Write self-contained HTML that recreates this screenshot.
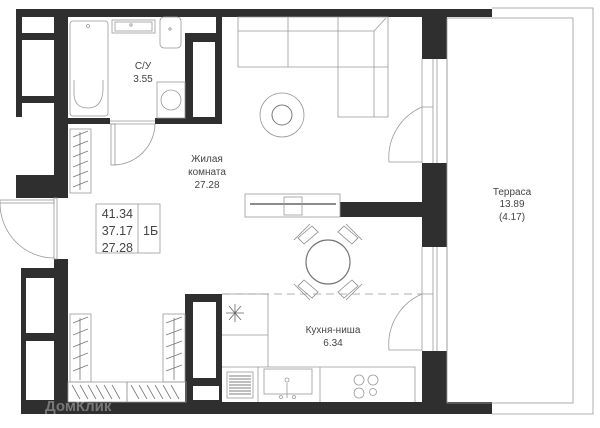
<!DOCTYPE html>
<html><head><meta charset="utf-8"><style>
html,body{margin:0;padding:0;background:#fff;}
svg{display:block;font-family:"Liberation Sans","DejaVu Sans",sans-serif;}
</style></head><body>
<svg width="600" height="428" viewBox="0 0 600 428" xmlns="http://www.w3.org/2000/svg">
<g fill="#2f2f2f">
<rect x="16" y="9" width="476" height="8"/>
<rect x="16" y="9" width="6" height="108"/>
<rect x="54" y="9" width="14" height="189"/>
<rect x="16" y="33" width="40" height="7"/>
<rect x="16" y="96" width="40" height="7"/>
<rect x="16" y="175" width="52" height="23"/>
<rect x="68" y="118" width="42" height="6"/>
<rect x="155" y="118" width="67" height="6"/>
<rect x="185" y="33" width="37" height="91"/>
<rect x="216" y="17" width="6" height="107"/>
<rect x="422" y="9" width="25" height="50"/>
<rect x="422" y="163" width="25" height="84"/>
<rect x="422" y="351" width="25" height="63"/>
<rect x="340" y="202" width="82" height="15"/>
<rect x="21" y="268" width="47" height="146"/>
<rect x="54" y="259" width="14" height="155"/>
<rect x="21" y="402" width="471" height="12"/>
<rect x="185" y="294" width="37" height="108"/>
</g>
<g fill="#fff">
<rect x="22" y="18" width="32" height="15"/>
<rect x="22" y="40" width="32" height="56"/>
<rect x="193" y="42" width="22" height="75"/>
<rect x="26" y="278" width="28" height="55"/>
<rect x="26" y="341" width="28" height="59"/>
<rect x="193" y="302" width="23" height="76"/>
<rect x="193" y="386" width="26" height="14"/>
</g>
<g fill="none" stroke="#999" stroke-width="0.8">
<!-- terrace -->
<path d="M492 8 H593 V414 H492"/>
<rect x="447" y="18" width="126" height="385"/>
<!-- right wall windows -->
<path d="M422 59 V163 M447 59 V163 M433 59 V163 M437 59 V163"/>
<path d="M422 247 V351 M447 247 V351 M433 247 V351 M437 247 V351"/>
<path d="M433 107 H422 M433 294 H422"/>
<path d="M422 107 A55 55 0 0 0 389 162 H422"/>
<path d="M422 294 A55 55 0 0 0 389 350 H422"/>
<!-- sofa -->
<path d="M238 17 V67 H338 V117 H388 V17 Z M238 31 H374 V117 M288 17 V67 M338 17 V67 M338 67 H388 M374 31 L386 18"/>
<circle cx="282" cy="115" r="22"/>
<circle cx="282" cy="115" r="10" stroke="#777" stroke-width="1"/>
<!-- shelf -->
<rect x="245" y="194" width="95" height="23"/>
<path d="M250 204 H336" stroke="#666" stroke-width="1.5"/>
<rect x="284" y="197" width="18" height="18"/>
<!-- dining -->
<circle cx="328" cy="262" r="22" stroke="#777" stroke-width="1.2"/>
<g stroke="#888">
<path d="M298 238 L312 226 L318 232 L304 244 Z M294 240 L310 224"/>
<path d="M358 238 L344 226 L338 232 L352 244 Z M362 240 L346 224"/>
<path d="M298 286 L312 298 L318 292 L304 280 Z M294 284 L310 300"/>
<path d="M358 286 L344 298 L338 292 L352 280 Z M362 284 L346 300"/>
</g>
<path d="M222 294 H422" stroke-dasharray="8 5"/>
<!-- kitchen -->
<path d="M222 294 H268 V367 M222 335 H268"/>
<path d="M222 367 H415 V402 M258 367 V402 M320 367 V402"/>
<rect x="264" y="369" width="48" height="25"/>
<path d="M229 306 L241 320 M241 306 L229 320 M235 304 V322 M226 313 H244" stroke="#666"/>
<rect x="227" y="372" width="26" height="26"/>
<path d="M229 376 H251 M229 379 H251 M229 382 H251 M229 385 H251 M229 388 H251 M229 391 H251 M229 394 H251" stroke="#555"/>
<circle cx="359" cy="380" r="5"/><circle cx="373" cy="380" r="5"/>
<circle cx="359" cy="393" r="5"/><circle cx="373" cy="392" r="3.5"/>
<circle cx="287" cy="380" r="2"/><path d="M287 383 V398"/>
<circle cx="281" cy="397" r="1.5"/><circle cx="294" cy="397" r="1.5"/>
<!-- bathroom -->
<rect x="70" y="21" width="38" height="95" rx="3"/>
<path d="M74 80 V95 Q75 108 88 108 Q102 108 103 90 V80"/>
<circle cx="88" cy="26" r="1.5"/>
<rect x="112" y="20" width="43" height="13"/>
<rect x="115" y="22" width="37" height="9"/>
<circle cx="131" cy="25" r="1.2"/>
<rect x="160" y="17" width="21" height="31" rx="4"/>
<circle cx="170" cy="29" r="1.2"/>
<rect x="157" y="82" width="28" height="36"/>
<circle cx="171" cy="100" r="10"/>
<path d="M110 124 H155 M110 121 H155"/>
<rect x="111" y="124" width="4" height="41"/>
<path d="M155 124 A42 42 0 0 1 113 165"/>
<!-- left entry door -->
<rect x="54" y="198" width="3" height="61"/>
<rect x="0" y="200" width="54" height="3"/>
<path d="M0 203 A54 55 0 0 0 54 258"/>
<!-- wardrobes -->
<rect x="70" y="129" width="21" height="64"/>
<rect x="70" y="314" width="21" height="68"/>
<rect x="163" y="314" width="22" height="68"/>
<rect x="68" y="382" width="59" height="20"/>
<rect x="127" y="382" width="59" height="20"/>
<!-- info box -->
<rect x="96" y="204" width="64" height="49"/>
<path d="M138 204 V253"/>
</g>
<g stroke="#777" stroke-width="0.8" fill="none">
<path d="M73 137 L88 131 M73 147 L88 141 M73 157 L88 151 M73 167 L88 161 M73 177 L88 171 M73 187 L88 181 M80 132 V190"/>
<path d="M73 323 L88 317 M73 335 L88 329 M73 347 L88 341 M73 359 L88 353 M73 371 L88 365 M80 318 V380"/>
<path d="M166 323 L182 317 M166 335 L182 329 M166 347 L182 341 M166 359 L182 353 M166 371 L182 365 M174 318 V380"/>
<path d="M72 385 L80 399 M80 385 L88 399 M88 385 L96 399 M96 385 L104 399 M104 385 L112 399 M112 385 L120 399"/>
<path d="M131 385 L139 399 M139 385 L147 399 M147 385 L155 399 M155 385 L163 399 M163 385 L171 399 M171 385 L179 399"/>
</g>
<g fill="#444" font-size="10" text-anchor="middle">
<text x="143" y="69">С/У</text>
<text x="143" y="82">3.55</text>
<text x="207" y="162">Жилая</text>
<text x="207" y="175">комната</text>
<text x="207" y="188">27.28</text>
<text x="512" y="195">Терраса</text>
<text x="512" y="207">13.89</text>
<text x="512" y="220">(4.17)</text>
<text x="333" y="333">Кухня-ниша</text>
<text x="333" y="346">6.34</text>
</g>
<g fill="#444" font-size="12.5">
<text x="133" y="218" text-anchor="end">41.34</text>
<text x="133" y="235" text-anchor="end">37.17</text>
<text x="133" y="252" text-anchor="end">27.28</text>
<text x="143" y="235">1Б</text>
</g>
<text x="45" y="411" font-size="15" fill="#ffffff" fill-opacity="0.35" font-weight="bold">ДомКлик</text>
</svg>
</body></html>
